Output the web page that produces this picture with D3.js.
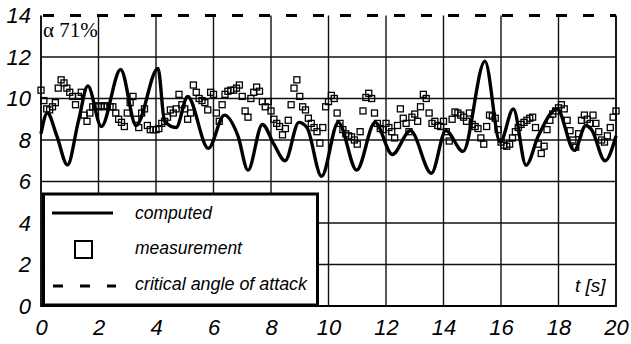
<!DOCTYPE html>
<html>
<head>
<meta charset="utf-8">
<script src="https://cdn.jsdelivr.net/npm/d3@7"></script>
<style>
  body { margin: 0; background: #fff; }
  svg { display: block; }
</style>
</head>
<body>
<div id="chart"></div>
<script>
// computed angle of attack (extrema)
var computedT = [0, 0.22, 0.55, 0.92, 1.3, 1.63, 2.1, 2.77, 3.31, 4.07, 4.3, 4.7, 5.1, 5.82, 6.38, 6.85, 7.2, 7.7, 8.1, 8.49, 8.97, 9.25, 9.76, 10.34, 10.98, 11.62, 12.22, 12.85, 13.58, 14.08, 14.68, 15.44, 15.97, 16.43, 16.87, 17.3, 17.95, 18.55, 18.95, 19.15, 19.62, 20];
var computedV = [8.3, 9.3, 8.2, 6.8, 8.9, 10.6, 8.65, 11.4, 8.7, 11.45, 8.9, 8.6, 10.1, 7.6, 9.2, 8.2, 6.55, 8.75, 7.8, 7.0, 8.85, 8.6, 6.25, 8.85, 6.55, 8.85, 7.3, 8.45, 6.4, 8.45, 7.45, 11.8, 7.9, 9.5, 6.78, 8.2, 9.5, 7.5, 8.7, 8.5, 7.0, 8.2];

// measurement, one value every 0.1 s from 0 to 20 s
var measStep = 0.1;
var measV = [
  10.4, 9.9, 9.5, 9.45, 9.6, 9.8, 10.5, 10.9, 10.75, 10.5,
  10.3, 10.1, 9.7, 10.1, 10.3, 9.2, 8.9, 9.3, 9.6, 9.65,
  9.6, 9.65, 9.6, 9.65, 9.6, 9.6, 9.3, 9.0, 8.85, 8.65,
  9.3, 9.8, 10.1, 9.0, 8.6, 9.3, 9.5, 8.7, 8.5, 8.5,
  8.5, 8.55, 8.8, 8.9, 9.1, 9.45, 9.3, 9.5, 10.2, 9.7,
  9.5, 9.0, 9.3, 10.65, 10.3, 10.0, 9.9, 9.8, 9.45, 10.3,
  10.2, 9.3, 8.9, 9.7, 10.2, 10.35, 10.4, 10.4, 10.5, 10.65,
  10.1, 9.4, 9.1, 10.0, 10.3, 10.55, 10.35, 9.85, 9.6, 9.85,
  9.4, 9.0, 8.8, 8.65, 8.25, 8.55, 8.95, 9.7, 10.5, 10.9,
  10.1, 9.6, 9.45, 9.05, 8.8, 8.6, 8.4, 7.85, 8.6, 9.6,
  9.85, 10.15, 10.0, 9.3, 8.8, 8.5, 8.3, 8.2, 8.15, 8.0,
  7.8, 8.4, 9.4, 10.05, 10.25, 10.0, 9.3, 8.8, 8.55, 8.5,
  8.8, 8.6, 8.4, 8.1, 8.7, 9.5, 9.05, 8.8, 8.4, 9.1,
  9.25, 8.9, 9.6, 10.2, 10.0, 9.3, 8.8, 8.9, 8.7, 8.65,
  8.9, 8.4, 7.95, 9.0, 9.35, 9.3, 9.2, 9.1, 8.9, 9.3,
  8.75, 8.65, 8.55, 8.1, 7.8, 8.65, 9.2, 9.15, 9.05, 8.5,
  7.9, 7.75, 7.7, 7.8, 8.1, 8.4, 8.6, 8.75, 8.85, 8.95,
  9.05, 9.1, 8.6, 7.8, 7.35, 7.7, 8.5, 8.95, 9.25, 9.4,
  9.55, 9.7, 9.5, 8.95, 8.45, 8.0, 7.65, 8.3, 8.95, 9.2,
  9.0, 8.8, 9.2, 8.8, 8.4, 8.0, 7.9, 8.2, 8.6, 9.1,
  9.4
];

var criticalAngle = 14;
var xTicks = [0, 2, 4, 6, 8, 10, 12, 14, 16, 18, 20];
var yTicks = [0, 2, 4, 6, 8, 10, 12, 14];
var legendLabels = ["computed", "measurement", "critical angle of attack"];
var annotation = "\u03b1 71%";
var xTitle = "t [s]";

var W = 631, H = 344,
    margin = {left: 41, top: 15.5, right: 15, bottom: 38};

var x = d3.scaleLinear().domain([0, 20]).range([margin.left, W - margin.right]);
var y = d3.scaleLinear().domain([0, 14]).range([H - margin.bottom, margin.top]);

var svg = d3.select("#chart").append("svg")
    .attr("width", W)
    .attr("height", H);

var sans = "'Liberation Sans', Arial, sans-serif";

// grid
svg.append("g").selectAll("line.vg")
    .data(xTicks.slice(1, -1))
    .enter().append("line")
    .attr("x1", function (d) { return x(d); })
    .attr("x2", function (d) { return x(d); })
    .attr("y1", y(0)).attr("y2", y(14))
    .attr("stroke", "#111").attr("stroke-width", 1.4);

svg.append("g").selectAll("line.hg")
    .data(yTicks.slice(1, -1))
    .enter().append("line")
    .attr("x1", x(0)).attr("x2", x(20))
    .attr("y1", function (d) { return y(d); })
    .attr("y2", function (d) { return y(d); })
    .attr("stroke", "#111").attr("stroke-width", 1.4);

// frame (left, right, bottom)
svg.append("path")
    .attr("d", "M" + x(0) + "," + y(14) + "V" + y(0) + "H" + x(20) + "V" + y(14))
    .attr("fill", "none")
    .attr("stroke", "#000")
    .attr("stroke-width", 1.8);

// critical angle of attack
svg.append("line")
    .attr("x1", x(0) + 2).attr("x2", x(20))
    .attr("y1", y(criticalAngle)).attr("y2", y(criticalAngle))
    .attr("stroke", "#000")
    .attr("stroke-width", 3)
    .attr("stroke-dasharray", "11,16");

// computed
var compData = computedT.map(function (t, i) { return {t: t, v: computedV[i]}; });
var line = d3.line()
    .x(function (d) { return x(d.t); })
    .y(function (d) { return y(d.v); })
    .curve(d3.curveMonotoneX);

svg.append("path")
    .datum(compData)
    .attr("d", line)
    .attr("fill", "none")
    .attr("stroke", "#000")
    .attr("stroke-width", 3.4)
    .attr("stroke-linejoin", "round");

// measurement squares
var s = 6;
svg.append("g").selectAll("rect")
    .data(measV)
    .enter().append("rect")
    .attr("x", function (d, i) { return x(i * measStep) - s / 2; })
    .attr("y", function (d) { return y(d) - s / 2; })
    .attr("width", s).attr("height", s)
    .attr("fill", "none")
    .attr("stroke", "#000")
    .attr("stroke-width", 1.3);

// axes labels
var xAxis = svg.append("g")
    .attr("transform", "translate(0," + y(0) + ")")
    .call(d3.axisBottom(x).tickValues(xTicks).tickSize(0).tickPadding(13));
xAxis.select(".domain").remove();
xAxis.selectAll("text")
    .attr("font-family", sans)
    .attr("font-style", "italic")
    .attr("font-size", 22)
    .attr("fill", "#000");

var yAxis = svg.append("g")
    .attr("transform", "translate(" + x(0) + ",0)")
    .call(d3.axisLeft(y).tickValues(yTicks).tickSize(0).tickPadding(10));
yAxis.select(".domain").remove();
yAxis.selectAll("text")
    .attr("font-family", sans)
    .attr("font-style", "italic")
    .attr("font-size", 22)
    .attr("fill", "#000");

// annotation
svg.append("text")
    .text(annotation)
    .attr("x", 43).attr("y", 37)
    .attr("font-family", "'Liberation Serif', 'Times New Roman', serif")
    .attr("font-size", 21)
    .attr("fill", "#000");

svg.append("text")
    .text(xTitle)
    .attr("x", 575).attr("y", 292)
    .attr("font-family", sans)
    .attr("font-style", "italic")
    .attr("font-size", 19)
    .attr("fill", "#000");

// legend
var lg = svg.append("g");
lg.append("rect")
    .attr("x", 43.5).attr("y", 194)
    .attr("width", 274).attr("height", 111)
    .attr("fill", "#fff")
    .attr("stroke", "#000")
    .attr("stroke-width", 3);

lg.append("line")
    .attr("x1", 52).attr("x2", 113)
    .attr("y1", 213).attr("y2", 213)
    .attr("stroke", "#000").attr("stroke-width", 3);

lg.append("rect")
    .attr("x", 75).attr("y", 241)
    .attr("width", 17).attr("height", 17)
    .attr("fill", "none")
    .attr("stroke", "#000").attr("stroke-width", 2);

lg.append("line")
    .attr("x1", 53).attr("x2", 116)
    .attr("y1", 286).attr("y2", 286)
    .attr("stroke", "#000").attr("stroke-width", 3)
    .attr("stroke-dasharray", "10,17");

var legendY = [219, 254, 290];
var legendW = [77, 107, 172];
lg.selectAll("text.lab")
    .data(legendLabels)
    .enter().append("text")
    .text(function (d) { return d; })
    .attr("x", 135)
    .attr("y", function (d, i) { return legendY[i]; })
    .attr("textLength", function (d, i) { return legendW[i]; })
    .attr("lengthAdjust", "spacingAndGlyphs")
    .attr("font-family", sans)
    .attr("font-style", "italic")
    .attr("font-size", 18)
    .attr("fill", "#000");
</script>
</body>
</html>
